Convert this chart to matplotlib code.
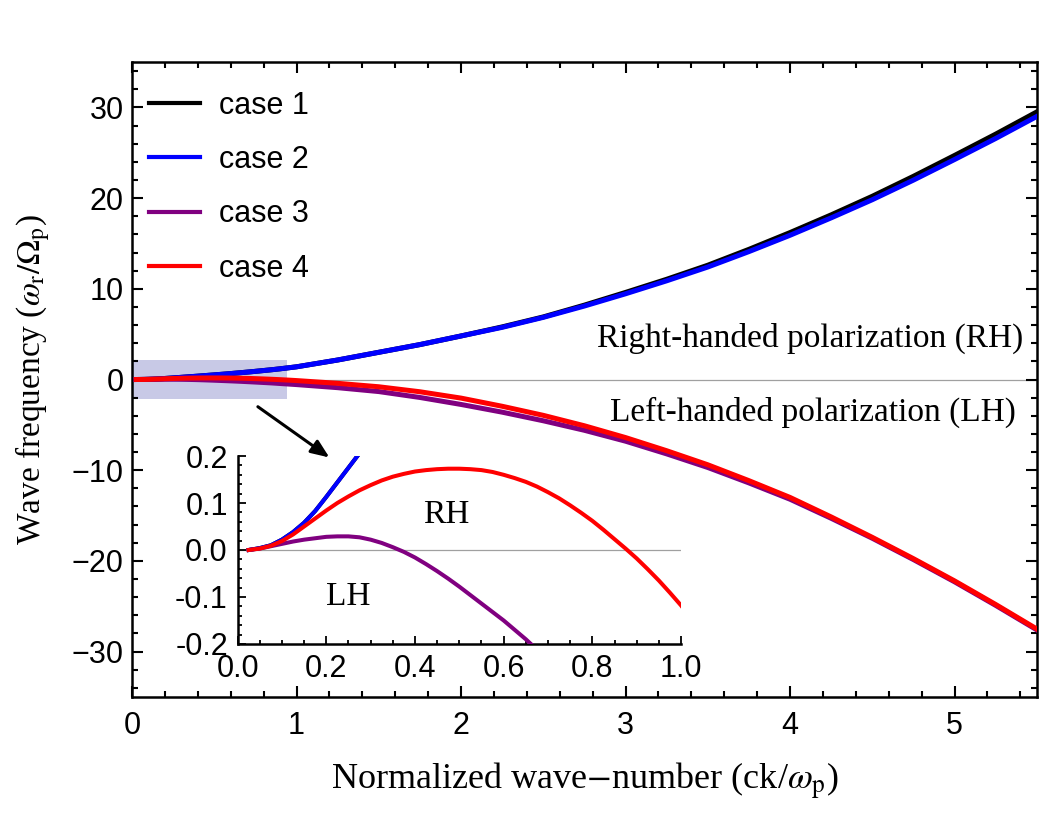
import matplotlib
matplotlib.use("Agg")
import matplotlib.pyplot as plt
from matplotlib.ticker import MultipleLocator, FormatStrFormatter
from matplotlib.patches import Rectangle

# ---------------- data ----------------
# normalized wave-number ck/omega_p
k = [0.025, 0.05, 0.075, 0.10, 0.125, 0.15, 0.175, 0.20, 0.225, 0.25,
     0.275, 0.30, 0.325, 0.35, 0.375, 0.40, 0.425, 0.45, 0.475, 0.50,
     0.525, 0.55, 0.575, 0.60, 0.625, 0.65, 0.675, 0.70, 0.725, 0.75,
     0.775, 0.80, 0.825, 0.85, 0.875, 0.90, 0.925, 0.95, 0.975, 1.00,
     1.25, 1.50, 1.75, 2.00, 2.25, 2.50, 2.75, 3.00, 3.25, 3.50,
     3.75, 4.00, 4.25, 4.50, 4.75, 5.00, 5.25, 5.50]

# case 1 (black) - right-handed branch
case1 = [0.0, 0.004, 0.010, 0.022, 0.038, 0.058, 0.083, 0.113, 0.144, 0.175,
         0.206, 0.240, 0.272, 0.305, 0.337, 0.370, 0.405, 0.440, 0.475, 0.510,
         0.545, 0.580, 0.617, 0.655, 0.695, 0.735, 0.775, 0.815, 0.857, 0.900,
         0.945, 0.990, 1.035, 1.080, 1.130, 1.180, 1.235, 1.290, 1.345, 1.400,
         2.15, 3.0, 3.85, 4.8, 5.8, 6.9, 8.2, 9.6, 11.05, 12.6,
         14.35, 16.2, 18.15, 20.2, 22.4, 24.7, 27.05, 29.5]

# case 2 (blue) - right-handed branch
case2 = [0.0, 0.004, 0.010, 0.022, 0.038, 0.058, 0.083, 0.113, 0.144, 0.175,
         0.206, 0.240, 0.272, 0.305, 0.337, 0.370, 0.405, 0.440, 0.475, 0.510,
         0.545, 0.580, 0.617, 0.655, 0.695, 0.735, 0.775, 0.815, 0.857, 0.900,
         0.945, 0.990, 1.035, 1.080, 1.130, 1.180, 1.235, 1.290, 1.345, 1.400,
         2.15, 3.0, 3.85, 4.8, 5.75, 6.85, 8.1, 9.45, 10.88, 12.4,
         14.1, 15.9, 17.82, 19.82, 21.98, 24.25, 26.57, 29.0]

# case 3 (purple)
case3 = [0.0, 0.003, 0.008, 0.013, 0.018, 0.022, 0.025, 0.028, 0.029, 0.029,
         0.027, 0.022, 0.015, 0.006, -0.004, -0.016, -0.030, -0.045, -0.061, -0.078,
         -0.096, -0.114, -0.132, -0.150, -0.170, -0.190, -0.212, -0.235, -0.258, -0.282,
         -0.306, -0.330, -0.355, -0.380, -0.410, -0.440, -0.470, -0.500, -0.530, -0.560,
         -0.90, -1.33, -1.98, -2.75, -3.6, -4.55, -5.6, -6.8, -8.2, -9.7,
         -11.4, -13.2, -15.3, -17.5, -19.85, -22.3, -24.9, -27.6]

# case 4 (red)
case4 = [0.0, 0.003, 0.009, 0.019, 0.033, 0.050, 0.067, 0.084, 0.100, 0.114,
         0.127, 0.138, 0.148, 0.156, 0.162, 0.167, 0.170, 0.172, 0.173, 0.173,
         0.172, 0.170, 0.166, 0.160, 0.153, 0.145, 0.135, 0.123, 0.110, 0.095,
         0.079, 0.062, 0.043, 0.023, 0.003, -0.018, -0.041, -0.065, -0.091, -0.118,
         -0.42, -0.80, -1.35, -2.05, -2.95, -3.95, -5.1, -6.4, -7.85, -9.4,
         -11.15, -13.0, -15.15, -17.4, -19.75, -22.2, -24.8, -27.5]

labels = ["case 1", "case 2", "case 3", "case 4"]
colors = ["black", "#0000ff", "#800080", "#ff0000"]
series = [case1, case2, case3, case4]

# ---------------- styling ----------------
plt.rcParams["font.family"] = ["Liberation Sans", "DejaVu Sans"]
plt.rcParams["mathtext.fontset"] = "stix"
serif = ["Liberation Serif", "DejaVu Serif"]

fig = plt.figure(figsize=(10.42, 8.13), dpi=100)
ax = fig.add_axes([0.1267, 0.1427, 0.8683, 0.781])

ax.add_patch(Rectangle((0, -2.1), 0.94, 4.2, facecolor="#c8c9e6",
                       edgecolor="none", zorder=1))
ax.axhline(0, color="#a0a0a0", lw=0.9, zorder=1.5)

for s, c, lab in zip(series, colors, labels):
    ax.plot(k, s, color=c, lw=3.6, label=lab, zorder=3)

ax.set_xlim(0, 5.5)
ax.set_ylim(-35, 35)
ax.xaxis.set_major_locator(MultipleLocator(1))
ax.xaxis.set_minor_locator(MultipleLocator(0.2))
ax.yaxis.set_major_locator(MultipleLocator(10))
ax.yaxis.set_minor_locator(MultipleLocator(2))
ax.tick_params(which="both", direction="in", top=True, right=True, width=1.5)
ax.tick_params(which="major", length=8, labelsize=22)
ax.tick_params(axis="x", which="major", pad=10)
ax.tick_params(axis="y", which="major", pad=6)
ax.tick_params(which="minor", length=4.5)
for sp in ax.spines.values():
    sp.set_linewidth(1.8)

ax.set_xlabel(r"Normalized wave$-$number (ck/$\omega_{\mathrm{p}}$)",
              family=serif, fontsize=26, labelpad=14)
ax.set_ylabel(r"Wave frequency ($\omega_{\mathrm{r}}/\Omega_{\mathrm{p}}$)",
              family=serif, fontsize=24, labelpad=14)

leg = ax.legend(loc="upper left", bbox_to_anchor=(0.019, 0.955), frameon=False,
                fontsize=22, handlelength=1.65, handletextpad=0.65,
                labelspacing=0.8, borderpad=0, borderaxespad=0)
for h in leg.get_lines():
    h.set_linewidth(3.0)

ax.text(0.985, 0.565, "Right-handed polarization (RH)", transform=ax.transAxes,
        ha="right", va="center", family=serif, fontsize=24)
ax.text(0.977, 0.448, "Left-handed polarization (LH)", transform=ax.transAxes,
        ha="right", va="center", family=serif, fontsize=24)

ax.annotate("", xy=(1.20, -8.6), xytext=(0.765, -3.0),
            arrowprops=dict(arrowstyle="-|>,head_length=1.1,head_width=0.45",
                            color="black", lw=2.2, shrinkA=0, shrinkB=0))

# ---------------- inset ----------------
ins = fig.add_axes([0.228, 0.2079, 0.4256, 0.2312])
ins.set_facecolor("none")
ins.axhline(0, color="#a0a0a0", lw=0.9, zorder=1)
for s, c in zip(series, colors):
    ins.plot(k, s, color=c, lw=2.9, zorder=3)
ins.set_xlim(0, 1.0)
ins.set_ylim(-0.2, 0.2)
ins.spines["top"].set_visible(False)
ins.spines["right"].set_visible(False)
for sp in ("left", "bottom"):
    ins.spines[sp].set_linewidth(1.8)
ins.xaxis.set_major_locator(MultipleLocator(0.2))
ins.xaxis.set_minor_locator(MultipleLocator(0.05))
ins.yaxis.set_major_locator(MultipleLocator(0.1))
ins.yaxis.set_minor_locator(MultipleLocator(0.02))
ins.xaxis.set_major_formatter(FormatStrFormatter("%.1f"))
ins.yaxis.set_major_formatter(FormatStrFormatter("%.1f"))
ins.tick_params(which="both", direction="in", width=1.3)
ins.tick_params(which="major", length=6, labelsize=22, pad=7)
ins.tick_params(which="minor", length=3)

ins.text(0.47, 0.075, "RH", family=serif, fontsize=24, ha="center", va="center")
ins.text(0.25, -0.1, "LH", family=serif, fontsize=24, ha="center", va="center")

fig.savefig("out.png", dpi=100)
